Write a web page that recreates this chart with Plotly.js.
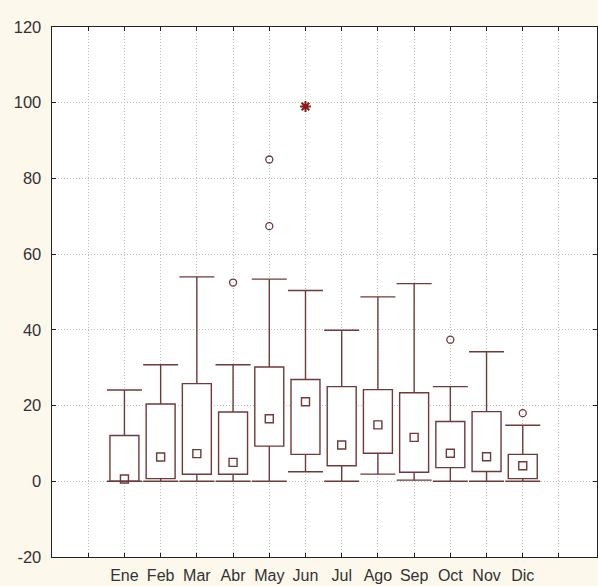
<!DOCTYPE html>
<html>
<head>
<meta charset="utf-8">
<script src="https://cdn.plot.ly/plotly-3.0.1.min.js"></script>
<style>html,body{margin:0;padding:0;background:#fdf8ec;}#chart{width:598px;height:586px;}</style>
</head>
<body>
<div id="chart"></div>
<script>
const months = ["Ene","Feb","Mar","Abr","May","Jun","Jul","Ago","Sep","Oct","Nov","Dic"];
const minVals = [0, 0, 0, 0, 0, 2.5, 0, 1.9, 0.3, 0, 0, 0];
const q1Vals = [0, 0.7, 1.85, 1.85, 9.3, 7.1, 4.1, 7.4, 2.4, 3.6, 2.6, 0.7];
const medianVals = [0.6, 6.4, 7.3, 5.0, 16.5, 21.0, 9.6, 14.9, 11.6, 7.4, 6.5, 4.1];
const q3Vals = [12.1, 20.4, 25.8, 18.3, 30.2, 26.9, 25.0, 24.2, 23.4, 15.8, 18.4, 7.1];
const maxVals = [24.1, 30.8, 54.0, 30.8, 53.4, 50.4, 39.9, 48.7, 52.2, 25.0, 34.2, 14.8];
const outlierMonths = ["Abr","May","May","Oct","Dic"];
const outlierValues = [52.5, 85.0, 67.4, 37.4, 18.0];
const extremeMonths = ["Jun"];
const extremeValues = [99.0];
const yTicks = [-20, 0, 20, 40, 60, 80, 100, 120];
const yTickText = ["-20", "0", "20", "40", "60", "80", "100", "120"];

const pos = m => months.indexOf(m) + 2;
const xs = months.map(pos);
const lineCol = "#6e3a3a";
const lw = 1.4;

// whisker segments built from the data arrays
const wx = [], wy = [];
xs.forEach((x, i) => {
  wx.push(x, x, null, x, x, null);
  wy.push(minVals[i], q1Vals[i], null, q3Vals[i], maxVals[i], null);
});

const traces = [
  {
    type: "scatter", mode: "lines", x: wx, y: wy,
    line: {color: lineCol, width: lw}, connectgaps: false,
    showlegend: false, hoverinfo: "skip"
  },
  {
    type: "scatter", mode: "markers", x: xs.concat(xs), y: minVals.concat(maxVals),
    marker: {symbol: "line-ew-open", size: 25, color: lineCol, line: {width: lw, color: lineCol}},
    showlegend: false, hoverinfo: "skip"
  },
  {
    type: "bar", x: xs, base: q1Vals, y: q3Vals.map((v, i) => v - q1Vals[i]),
    width: 0.8,
    marker: {color: "#ffffff", line: {color: lineCol, width: lw}},
    showlegend: false, hoverinfo: "skip"
  },
  {
    type: "scatter", mode: "markers", x: xs, y: medianVals,
    marker: {symbol: "square-open", size: 8, color: lineCol, line: {width: lw, color: lineCol}},
    showlegend: false, hoverinfo: "skip"
  },
  {
    type: "scatter", mode: "markers", x: outlierMonths.map(pos), y: outlierValues,
    marker: {symbol: "circle-open", size: 7, color: lineCol, line: {width: 1.3, color: lineCol}},
    showlegend: false, hoverinfo: "skip"
  },
  {
    type: "scatter", mode: "markers", x: extremeMonths.map(pos), y: extremeValues,
    marker: {symbol: "asterisk-open", size: 9, color: "#8b1a1a", line: {width: 2, color: "#8b1a1a"}},
    showlegend: false, hoverinfo: "skip"
  }
];

const tickPos = [];
const tickText = [];
for (let k = 1; k <= 14; k++) {
  tickPos.push(k);
  tickText.push(k >= 2 && k <= 13 ? months[k - 2] : "");
}

const layout = {
  width: 598, height: 586,
  margin: {l: 52, r: 1, t: 27, b: 29},
  paper_bgcolor: "#fdf8ec",
  plot_bgcolor: "#ffffff",
  font: {family: "Liberation Sans, Arial, sans-serif", color: "#333333"},
  xaxis: {
    range: [0, 15.05], tickvals: tickPos, ticktext: tickText,
    showgrid: true, gridcolor: "#bdbdbd", griddash: "1px,2px", gridwidth: 1,
    zeroline: false, showline: true, linecolor: "#222222", linewidth: 1.4,
    mirror: "ticks", ticks: "inside", ticklen: 4, tickcolor: "#222222",
    ticklabelstandoff: 3,
    tickfont: {size: 16, color: "#333333"}
  },
  yaxis: {
    range: [-20, 120], tickvals: yTicks, ticktext: yTickText,
    showgrid: true, gridcolor: "#bdbdbd", griddash: "1px,2px", gridwidth: 1,
    zeroline: false, showline: true, linecolor: "#222222", linewidth: 1.4,
    mirror: "ticks", ticks: "inside", ticklen: 4, tickcolor: "#222222",
    ticklabelstandoff: 6,
    tickfont: {size: 16.5, color: "#333333"}
  }
};

Plotly.newPlot("chart", traces, layout, {displayModeBar: false, staticPlot: true});
</script>
</body>
</html>
